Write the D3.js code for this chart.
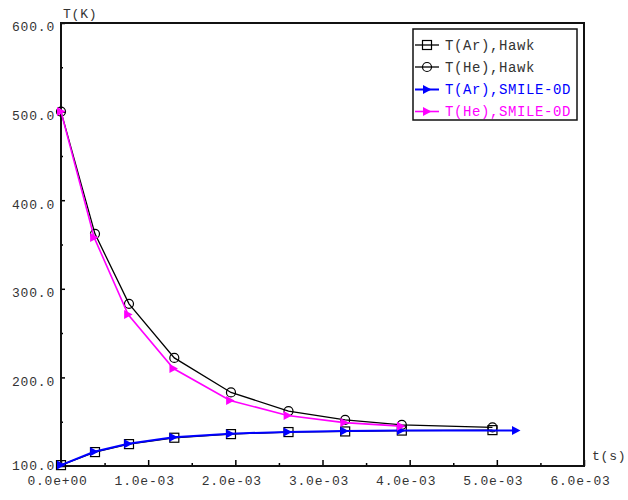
<!DOCTYPE html>
<html>
<head>
<meta charset="utf-8">
<script src="https://cdn.jsdelivr.net/npm/d3@7"></script>
<style>
  html, body { margin: 0; padding: 0; background: #fff; }
  svg { display: block; }
  text { font-family: "Liberation Mono", "DejaVu Sans Mono", monospace; }
</style>
</head>
<body>
<svg id="chart" width="628" height="500"></svg>
<script>
// Time samples (s) and temperatures (K)
const hawkTime   = [0, 0.39e-3, 0.78e-3, 1.30e-3, 1.95e-3, 2.61e-3, 3.26e-3, 3.91e-3, 4.95e-3];
const hawkTAr    = [101, 115.7, 124.7, 131.9, 136, 138.3, 139, 140, 140.5];
const hawkTHe    = [500, 362, 283, 222, 183, 162, 152, 146.5, 143.5];
const smileTime  = [0, 0.38e-3, 0.77e-3, 1.29e-3, 1.94e-3, 2.60e-3, 3.25e-3, 3.90e-3, 5.22e-3];
const smileTAr   = [101, 116, 125, 132.5, 136.5, 138.5, 139.5, 140, 140];
const smileTHe   = [500, 358, 271, 210, 174, 157, 149, 145];

const xTicks = [0, 1e-3, 2e-3, 3e-3, 4e-3, 5e-3, 6e-3];
const yTicks = [100, 200, 300, 400, 500, 600];
const seriesNames = ["T(Ar),Hawk", "T(He),Hawk", "T(Ar),SMILE-0D", "T(He),SMILE-0D"];

const svg = d3.select("#chart");
const x = d3.scaleLinear().domain([0, 6e-3]).range([61, 584]);
const y = d3.scaleLinear().domain([100, 600]).range([466, 23]);

// exponent label like 1.0e-03
const fmtExp = v => {
  const [m, e] = v.toExponential(1).split("e");
  const n = Math.abs(+e);
  return m + "e" + (+e < 0 ? "-" : "+") + (n < 10 ? "0" : "") + n;
};

const series = [
  { name: seriesNames[0], t: hawkTime,  v: hawkTAr,  color: "#000", width: 1.3, marker: "square" },
  { name: seriesNames[1], t: hawkTime,  v: hawkTHe,  color: "#000", width: 1.3, marker: "circle" },
  { name: seriesNames[2], t: smileTime, v: smileTAr, color: "#0000ff", width: 2, marker: "tri" },
  { name: seriesNames[3], t: smileTime, v: smileTHe, color: "#ff00ff", width: 1.6, marker: "tri" }
];

// minor ticks
const yMinor = d3.range(150, 600, 100);
const xMinor = d3.range(0.5e-3, 6e-3, 1e-3);

svg.append("g").attr("transform", "translate(61,0)")
  .call(d3.axisLeft(y).tickValues(yMinor).tickSizeInner(-2).tickSizeOuter(0).tickFormat(""))
  .call(g => g.select(".domain").remove());
svg.append("g").attr("transform", "translate(0,466)")
  .call(d3.axisBottom(x).tickValues(xMinor).tickSizeInner(-3).tickSizeOuter(0).tickFormat(""))
  .call(g => g.select(".domain").remove());

const yAxis = svg.append("g").attr("transform", "translate(61,0)")
  .call(d3.axisLeft(y).tickValues(yTicks).tickSizeInner(-4).tickSizeOuter(0).tickPadding(6).tickFormat(d3.format(".1f")));
yAxis.select(".domain").remove();
yAxis.selectAll("text")
  .attr("dy", d => d === 100 ? "0.3em" : "0.6em")
  .attr("font-size", 13).attr("letter-spacing", 0.8).attr("fill", "#333");

const xAxis = svg.append("g").attr("transform", "translate(0,466)")
  .call(d3.axisBottom(x).tickValues(xTicks).tickSizeInner(-6).tickSizeOuter(0).tickPadding(10).tickFormat(fmtExp));
xAxis.select(".domain").remove();
xAxis.selectAll("text").attr("dx", -4).attr("font-size", 13).attr("letter-spacing", 0.8).attr("fill", "#333");

svg.selectAll(".tick line").attr("stroke", "#000").attr("stroke-width", 1.5);

// plot frame
svg.append("rect")
  .attr("x", x(0)).attr("y", y(600))
  .attr("width", x(6e-3) - x(0)).attr("height", y(100) - y(600))
  .attr("fill", "none").attr("stroke", "#111").attr("stroke-width", 2);

// axis titles
svg.append("text").attr("x", 63).attr("y", 18).attr("font-size", 13).attr("letter-spacing", 0.8).attr("fill", "#333").text("T(K)");
svg.append("text").attr("x", 592).attr("y", 460).attr("font-size", 13).attr("letter-spacing", 0.8).attr("fill", "#333").text("t(s)");

const triPath = "M-4,-4.5L4.5,0L-4,4.5Z";

function drawMarker(g, type, color) {
  if (type === "square") {
    g.append("rect").attr("x", -4.5).attr("y", -4.5).attr("width", 9).attr("height", 9)
      .attr("fill", "none").attr("stroke", color).attr("stroke-width", 1.2);
  } else if (type === "circle") {
    g.append("circle").attr("r", 4.5).attr("fill", "none").attr("stroke", color).attr("stroke-width", 1.2);
  } else {
    g.append("path").attr("d", triPath).attr("fill", color);
  }
}

const line = d3.line().x(d => x(d[0])).y(d => y(d[1]));

series.forEach(s => {
  const pts = s.v.map((v, i) => [s.t[i], v]);
  const g = svg.append("g");
  g.append("path").datum(pts).attr("d", line)
    .attr("fill", "none").attr("stroke", s.color).attr("stroke-width", s.width);
  pts.forEach(p => {
    const m = g.append("g").attr("transform", `translate(${x(p[0])},${y(p[1])})`);
    drawMarker(m, s.marker, s.color);
  });
});

// legend
const lg = svg.append("g");
lg.append("rect").attr("x", 413).attr("y", 29).attr("width", 164).attr("height", 91)
  .attr("fill", "#fff").attr("stroke", "#111").attr("stroke-width", 1.5);
const rowY = [45, 67, 89.5, 111.5];
series.forEach((s, i) => {
  const r = lg.append("g").attr("transform", `translate(0,${rowY[i]})`);
  r.append("line").attr("x1", 415).attr("x2", 439).attr("stroke", s.color).attr("stroke-width", s.width);
  const m = r.append("g").attr("transform", "translate(427,0)");
  drawMarker(m, s.marker, s.color);
  r.append("text").attr("x", 445).attr("dy", "0.35em").attr("font-size", 14).attr("letter-spacing", 0.6)
    .attr("fill", s.color === "#000" ? "#333" : s.color).text(s.name);
});
</script>
</body>
</html>
